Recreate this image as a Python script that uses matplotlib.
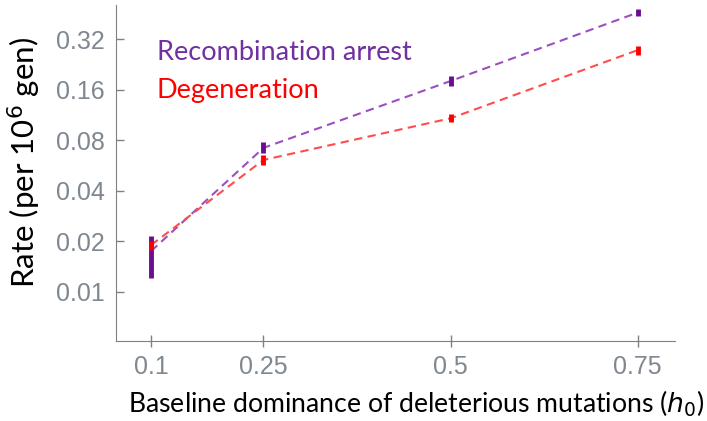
import matplotlib
matplotlib.use("Agg")
import numpy as np
import matplotlib.pyplot as plt
from matplotlib.ticker import FixedLocator, NullLocator

# baseline dominance h0
h0 = [0.1, 0.25, 0.5, 0.75]
xticklabels = ["0.1", "0.25", "0.5", "0.75"]

# recombination arrest rate (per 10^6 gen)
arrest = [0.0175, 0.072, 0.18, 0.46]
arrest_lo = [0.0121, 0.067, 0.168, 0.44]
arrest_hi = [0.0215, 0.078, 0.193, 0.48]

# degeneration rate
degen = [0.019, 0.061, 0.108, 0.275]
degen_lo = [0.0178, 0.057, 0.102, 0.258]
degen_hi = [0.020, 0.065, 0.114, 0.29]

yticks = [0.01, 0.02, 0.04, 0.08, 0.16, 0.32]
yticklabels = ["0.01", "0.02", "0.04", "0.08", "0.16", "0.32"]

plt.rcParams['font.family'] = ['Lato', 'DejaVu Sans']

fig = plt.figure(figsize=(7.07, 4.21), dpi=100)
ax = fig.add_axes([0.164, 0.19, 0.791, 0.798])

ax.set_yscale('log')
ax.set_xlim(0.053, 0.8)
ax.set_ylim(0.0051, 0.51)

# dashed lines
ax.plot(h0, arrest, ls=(0, (4, 2.6)), color='#9b4fc0', lw=1.5)
ax.plot(h0, degen, ls=(0, (4, 2.6)), color='#ff4d4d', lw=1.5)

# error bars
ax.vlines(h0, arrest_lo, arrest_hi, color='#6a0d91', lw=3.5)
ax.vlines(h0, degen_lo, degen_hi, color='#ff0000', lw=3.5)

ax.yaxis.set_major_locator(FixedLocator(yticks))
ax.yaxis.set_minor_locator(NullLocator())
ax.set_yticklabels(yticklabels)
ax.set_xticks(h0)
ax.set_xticklabels(xticklabels)

ax.tick_params(axis='both', colors='#808080', labelcolor='#7f8791', labelsize=18,
               length=6, width=1, direction='in', pad=8,
               labelfontfamily='Liberation Sans')
ax.tick_params(axis='x', direction='inout', length=8, pad=6)

for s in ['top', 'right']:
    ax.spines[s].set_visible(False)
ax.spines['left'].set_color('#808080')
ax.spines['bottom'].set_color('#808080')

ax.set_ylabel('Rate (per 10$^{6}$ gen)', fontsize=22.5)
ax.yaxis.set_label_coords(-0.13, 0.53)
ax.set_xlabel('Baseline dominance of deleterious mutations ($h_0$)', fontsize=19.2)
ax.xaxis.set_label_coords(0.537, -0.142)

ax.text(0.073, 0.86, 'Recombination arrest', transform=ax.transAxes,
        color='#7030a0', fontsize=19.5, va='center')
ax.text(0.073, 0.747, 'Degeneration', transform=ax.transAxes,
        color='#ff0000', fontsize=19.5, va='center')

fig.savefig('out.png', dpi=100)
